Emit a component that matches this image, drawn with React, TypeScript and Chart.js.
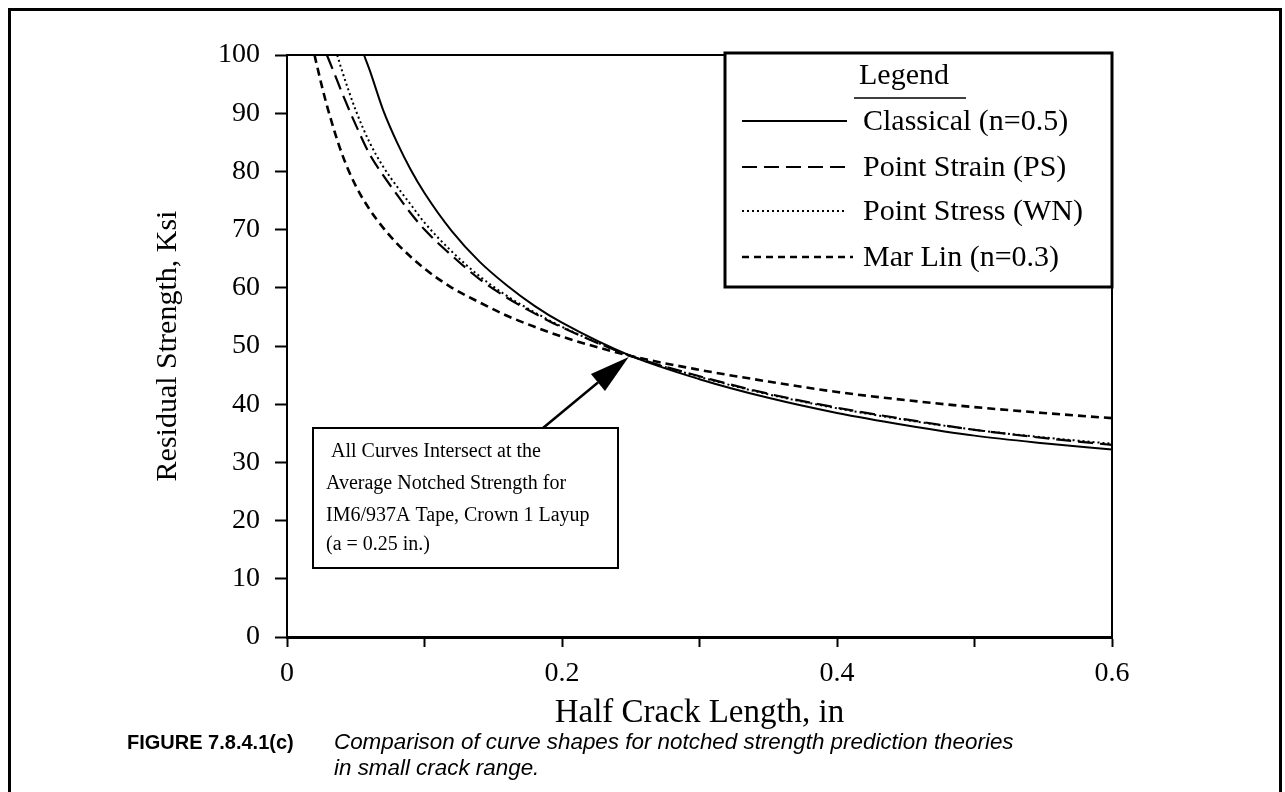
import React, { useEffect, useRef } from "react";
import { Chart, registerables } from "chart.js";

Chart.register(...registerables);

// ---------- data ----------
const seriesLabels = [
  "Classical (n=0.5)",
  "Point Strain (PS)",
  "Point Stress (WN)",
  "Mar Lin (n=0.3)",
];

const classicalX = [0.056, 0.06, 0.07, 0.08, 0.09, 0.1, 0.12, 0.14, 0.16, 0.18, 0.2, 0.25, 0.3, 0.35, 0.4, 0.45, 0.5, 0.55, 0.6];
const classicalY = [100, 97.5, 90.5, 85, 80.3, 76.3, 69.7, 64.5, 60.4, 56.9, 54.0, 48.3, 44.3, 41.1, 38.5, 36.4, 34.6, 33.3, 32.2];

const pointStrainX = [0.029, 0.035, 0.04, 0.05, 0.06, 0.07, 0.08, 0.09, 0.1, 0.12, 0.14, 0.16, 0.18, 0.2, 0.25, 0.3, 0.35, 0.4, 0.45, 0.5, 0.55, 0.6];
const pointStrainY = [100, 96.5, 93.5, 88, 83, 79.3, 76, 72.8, 70, 65.5, 61.5, 58.3, 55.6, 53.2, 48.3, 44.8, 41.8, 39.4, 37.4, 35.6, 34.2, 33.0];

const pointStressX = [0.0365, 0.04, 0.05, 0.06, 0.07, 0.08, 0.09, 0.1, 0.12, 0.14, 0.16, 0.18, 0.2, 0.25, 0.3, 0.35, 0.4, 0.45, 0.5, 0.55, 0.6];
const pointStressY = [100, 97.3, 90.5, 85, 80.8, 77.4, 74.3, 71.2, 66.2, 62, 58.6, 55.8, 53.3, 48.3, 44.7, 41.7, 39.3, 37.3, 35.6, 34.3, 33.2];

const marLinX = [0.02, 0.025, 0.03, 0.04, 0.05, 0.06, 0.07, 0.08, 0.1, 0.12, 0.14, 0.16, 0.18, 0.2, 0.25, 0.3, 0.35, 0.4, 0.45, 0.5, 0.55, 0.6];
const marLinY = [100, 95, 90.5, 83, 77.5, 73.5, 70.3, 67.6, 63.3, 60, 57.5, 55.2, 53.3, 51.6, 48.3, 45.9, 43.9, 42.1, 40.7, 39.5, 38.5, 37.6];

const intersectPoint = [0.25, 48.3];

const annotationLines = [
  " All Curves Intersect at the",
  "Average Notched Strength for",
  "IM6/937A Tape, Crown 1 Layup",
  "(a = 0.25 in.)",
];

const xAxisTitle = "Half Crack Length, in";
const yAxisTitle = "Residual Strength, Ksi";
const legendTitle = "Legend";
const captionLabel = "FIGURE 7.8.4.1(c)";
const captionLines = [
  "Comparison of curve shapes for notched strength prediction theories",
  "in small crack range.",
];

// ---------- styling ----------
const SERIF = '"Liberation Serif", "Times New Roman", serif';
const SANS = '"Liberation Sans", Arial, sans-serif';

const toPoints = (xs: number[], ys: number[]) => xs.map((x, i) => ({ x, y: ys[i] }));

const overlayPlugin = {
  id: "figureOverlay",
  afterDraw(chart: any) {
    const { ctx, chartArea, scales } = chart;
    const { left, right, top, bottom } = chartArea;
    ctx.save();

    // top and right frame
    ctx.strokeStyle = "#000";
    ctx.lineWidth = 2;
    ctx.beginPath();
    ctx.moveTo(left - 1, top);
    ctx.lineTo(right, top);
    ctx.lineTo(right, bottom);
    ctx.stroke();

    // ----- legend box -----
    const lx0 = 725, ly0 = top - 2, lx1 = right, ly1 = 287;
    ctx.fillStyle = "#fff";
    ctx.fillRect(lx0, ly0, lx1 - lx0, ly1 - ly0);
    ctx.lineWidth = 3;
    ctx.strokeRect(lx0, ly0, lx1 - lx0, ly1 - ly0);

    ctx.fillStyle = "#000";
    ctx.font = `30px ${SERIF}`;
    ctx.textBaseline = "middle";
    ctx.textAlign = "center";
    ctx.fillText(legendTitle, 904, 76);
    ctx.lineWidth = 1.5;
    ctx.beginPath();
    ctx.moveTo(854, 98);
    ctx.lineTo(966, 98);
    ctx.stroke();

    const rowY = [122, 168, 212, 258];
    ctx.textAlign = "left";
    chart.data.datasets.forEach((ds: any, i: number) => {
      const y = rowY[i];
      ctx.save();
      ctx.strokeStyle = "#000";
      ctx.lineWidth = ds.borderWidth;
      ctx.setLineDash(ds.legendDash || ds.borderDash || []);
      ctx.beginPath();
      ctx.moveTo(742, y - 1);
      ctx.lineTo(i === 3 ? 853 : 847, y - 1);
      ctx.stroke();
      ctx.restore();
      ctx.fillText(ds.label, 863, y);
    });

    // ----- annotation box with arrow -----
    const bx0 = 313, by0 = 428, bx1 = 618, by1 = 568;
    ctx.fillStyle = "#fff";
    ctx.fillRect(bx0, by0, bx1 - bx0, by1 - by0);
    ctx.strokeStyle = "#000";
    ctx.lineWidth = 2;
    ctx.strokeRect(bx0, by0, bx1 - bx0, by1 - by0);

    ctx.fillStyle = "#000";
    ctx.font = `20px ${SERIF}`;
    ctx.textAlign = "left";
    const lineY = [452, 484, 516, 545];
    annotationLines.forEach((t, i) => ctx.fillText(t, 326, lineY[i]));

    const tipX = scales.x.getPixelForValue(intersectPoint[0]) - 2;
    const tipY = scales.y.getPixelForValue(intersectPoint[1]) + 1;
    const tailX = 543, tailY = by0;
    const ang = Math.atan2(tipY - tailY, tipX - tailX);
    const headLen = 40, halfW = 11;
    const baseX = tipX - headLen * Math.cos(ang);
    const baseY = tipY - headLen * Math.sin(ang);
    ctx.lineWidth = 2.5;
    ctx.beginPath();
    ctx.moveTo(tailX, tailY);
    ctx.lineTo(baseX, baseY);
    ctx.stroke();
    ctx.beginPath();
    ctx.moveTo(tipX, tipY);
    ctx.lineTo(baseX + halfW * Math.sin(ang), baseY - halfW * Math.cos(ang));
    ctx.lineTo(baseX - halfW * Math.sin(ang), baseY + halfW * Math.cos(ang));
    ctx.closePath();
    ctx.fill();

    ctx.restore();
  },
};

export default function App() {
  const canvasRef = useRef<HTMLCanvasElement | null>(null);

  useEffect(() => {
    if (!canvasRef.current) return;
    const chart = new Chart(canvasRef.current, {
      type: "line",
      data: {
        datasets: [
          {
            label: seriesLabels[0],
            data: toPoints(classicalX, classicalY),
            borderColor: "#000",
            borderWidth: 2,
            borderDash: [],
            pointRadius: 0,
            cubicInterpolationMode: "monotone",
          },
          {
            label: seriesLabels[1],
            data: toPoints(pointStrainX, pointStrainY),
            borderColor: "#000",
            borderWidth: 2.2,
            borderDash: [15, 7],
            pointRadius: 0,
            cubicInterpolationMode: "monotone",
          },
          {
            label: seriesLabels[2],
            data: toPoints(pointStressX, pointStressY),
            borderColor: "#000",
            borderWidth: 2,
            borderDash: [2, 3],
            pointRadius: 0,
            cubicInterpolationMode: "monotone",
          },
          {
            label: seriesLabels[3],
            data: toPoints(marLinX, marLinY),
            borderColor: "#000",
            borderWidth: 2.6,
            borderDash: [8, 5],
            legendDash: [7, 5],
            pointRadius: 0,
            cubicInterpolationMode: "monotone",
          } as any,
        ],
      },
      options: {
        responsive: false,
        animation: false,
        events: [],
        layout: { padding: { left: 0, top: 55, right: 173, bottom: 0 } },
        plugins: {
          legend: { display: false },
          tooltip: { enabled: false },
        },
        scales: {
          x: {
            type: "linear",
            min: 0,
            max: 0.6,
            afterFit: (s: any) => {
              s.height = 155;
            },
            border: { display: true, color: "#000", width: 3 },
            grid: {
              drawOnChartArea: false,
              drawTicks: true,
              tickLength: 10,
              tickColor: "#000",
              tickWidth: 2,
            },
            ticks: {
              stepSize: 0.1,
              autoSkip: false,
              maxRotation: 0,
              padding: 10,
              color: "#000",
              font: { family: SERIF, size: 28 },
              callback: (v: any) => {
                const k = Math.round(Number(v) * 10);
                if (k % 2 !== 0) return "";
                return k === 0 ? "0" : (k / 10).toFixed(1);
              },
            },
            title: {
              display: true,
              text: xAxisTitle,
              color: "#000",
              font: { family: SERIF, size: 33 },
              padding: { top: 0, bottom: 59 },
            },
          },
          y: {
            type: "linear",
            min: 0,
            max: 100,
            afterFit: (s: any) => {
              s.width = 287;
            },
            border: { display: true, color: "#000", width: 2 },
            grid: {
              drawOnChartArea: false,
              drawTicks: true,
              tickLength: 12,
              tickColor: "#000",
              tickWidth: 2,
            },
            ticks: {
              stepSize: 10,
              autoSkip: false,
              padding: 15,
              color: "#000",
              font: { family: SERIF, size: 28 },
            },
            title: {
              display: true,
              text: yAxisTitle,
              color: "#000",
              font: { family: SERIF, size: 30 },
              padding: { top: 150, bottom: 0 },
            },
          },
        },
      } as any,
      plugins: [overlayPlugin],
    });
    return () => chart.destroy();
  }, []);

  return (
    <div style={{ position: "absolute", left: 0, top: 0, width: 1285, height: 792, overflow: "hidden", background: "#fff" }}>
      <div
        style={{
          position: "absolute",
          left: 8,
          top: 8,
          width: 1268,
          height: 800,
          borderLeft: "3px solid #000",
          borderTop: "3px solid #000",
          borderRight: "3px solid #000",
        }}
      />
      <canvas ref={canvasRef} width={1285} height={792} style={{ position: "absolute", left: 0, top: 0, display: "block" }} />
      <div
        style={{
          position: "absolute",
          left: 127,
          top: 730,
          fontFamily: SANS,
          fontWeight: "bold",
          fontSize: 20,
          lineHeight: "25px",
          color: "#000",
          whiteSpace: "nowrap",
        }}
      >
        {captionLabel}
      </div>
      <div
        style={{
          position: "absolute",
          left: 334,
          top: 729,
          fontFamily: SANS,
          fontStyle: "italic",
          fontSize: 22.4,
          lineHeight: "26px",
          color: "#000",
          whiteSpace: "nowrap",
        }}
      >
        {captionLines.map((t, i) => (
          <div key={i}>{t}</div>
        ))}
      </div>
    </div>
  );
}
